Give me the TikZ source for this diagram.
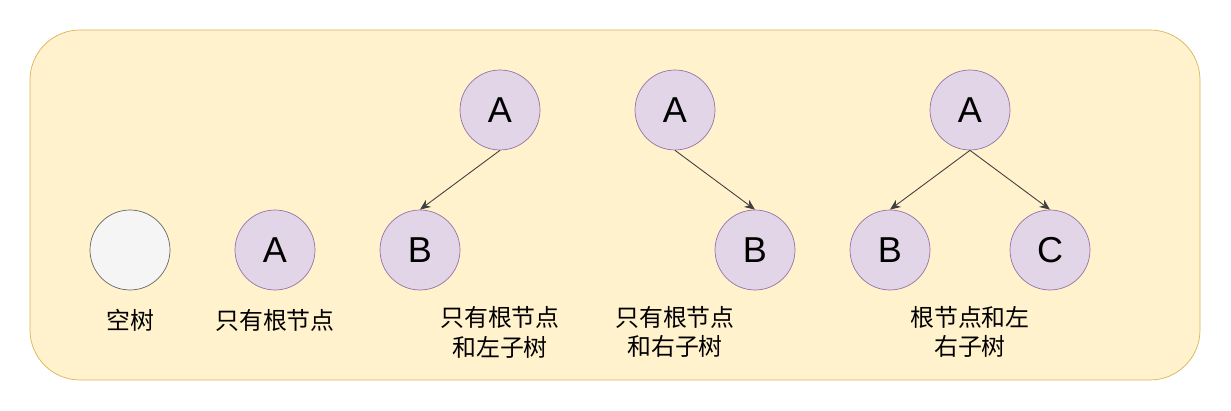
\documentclass[tikz,border=0pt]{standalone}
\usepackage{fontspec}
\usepackage{xcolor}
\setmainfont{Liberation Sans}
\newfontfamily\cjk{Noto Sans CJK SC}
\usetikzlibrary{arrows.meta}

\definecolor{panelfill}{HTML}{FFF2CC}
\definecolor{paneldraw}{HTML}{D6B656}
\definecolor{treefill}{HTML}{E1D5E7}
\definecolor{treedraw}{HTML}{9673A6}
\definecolor{emptyfill}{HTML}{F5F5F5}
\definecolor{emptydraw}{HTML}{666666}

\tikzset{
  treenode/.style={circle, draw=treedraw, fill=treefill, minimum size=1.6cm, inner sep=0pt, font=\fontsize{20.5}{20}\selectfont},
  caption/.style={align=center, font=\cjk\fontsize{13.6}{17}\selectfont},
  child/.style={-{Stealth[length=6pt, width=5pt]}, black!75, line width=0.5pt}
}

\begin{document}
\begin{tikzpicture}[x=0.02cm, y=-0.02cm]
          \useasboundingbox (0,0) rectangle (1231,411);
          \draw[paneldraw, fill=panelfill, rounded corners=1cm] (30,30) rectangle (1200,380);

          \node[treenode, draw=emptydraw, fill=emptyfill] (e0) at (130,250) {};
          \node[treenode] (a1) at (275,250) {A};
          \node[treenode] (a2) at (500,110) {A};
          \node[treenode] (b2) at (420,250) {B};
          \node[treenode] (a3) at (675,110) {A};
          \node[treenode] (b3) at (755,250) {B};
          \node[treenode] (a4) at (970,110) {A};
          \node[treenode] (b4) at (890,250) {B};
          \node[treenode] (c4) at (1050,250) {C};

          \node[caption] (t0) at (130,320) {空树};
          \node[caption] (t1) at (275,320) {只有根节点};
          \node[caption] (t2) at (500,332) {只有根节点\\和左子树};
          \node[caption] (t3) at (675,332) {只有根节点\\和右子树};
          \node[caption] (t4) at (970,332) {根节点和左\\右子树};

          \draw[child] (a2.south) -- (b2.north);
          \draw[child] (a3.south) -- (b3.north);
          \draw[child] (a4.south) -- (b4.north);
          \draw[child] (a4.south) -- (c4.north);
        \end{tikzpicture}
\end{document}
